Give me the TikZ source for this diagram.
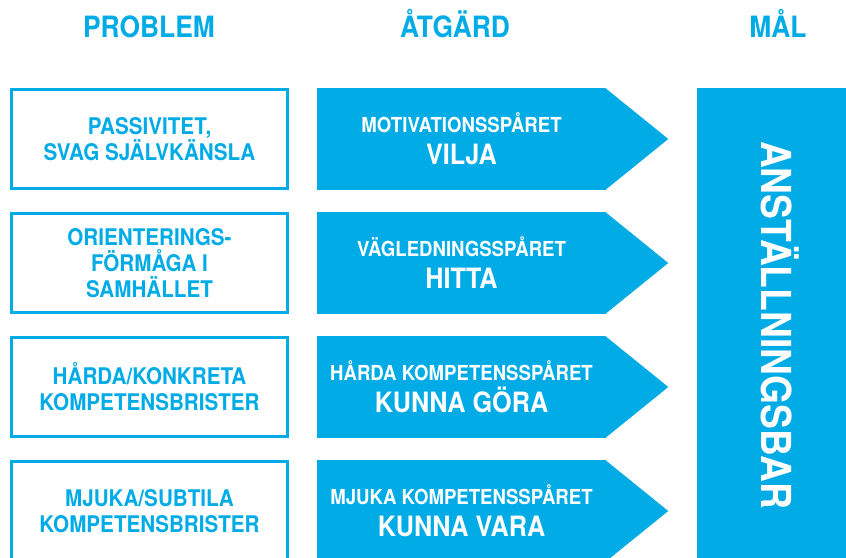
\documentclass[tikz,border=0pt]{standalone}
\usepackage{fontspec}
\setmainfont{TeX Gyre Heros}[FakeStretch=0.9]
\usepackage{tikz}
\definecolor{ssblue}{RGB}{0,171,230}
\tikzset{
	header/.style = {font=\bfseries\fontsize{22}{24}\selectfont, text=ssblue, anchor=base},
	problembox/.style = {draw=ssblue, line width=2.25pt, minimum width=207pt, minimum height=74.25pt, inner sep=0pt,
		align=center, text=ssblue, font=\bfseries\fontsize{17.2}{19.5}\selectfont},
	trackbody/.style = {fill=ssblue, minimum width=216.75pt, minimum height=76.5pt, inner sep=0pt,
		align=center, text=white, font=\bfseries\fontsize{15.5}{24}\selectfont},
	goalbar/.style = {fill=ssblue, minimum width=111.75pt, minimum height=354pt, inner sep=0pt},
	goaltext/.style = {text=white, font=\bfseries\fontsize{31}{34}\selectfont, rotate=-90, inner sep=0pt}
}
\newcommand{\tracktext}[2]{#1\\{\fontsize{21}{24}\selectfont #2}}

\begin{document}
\begin{tikzpicture}[x=0.75pt, y=-0.75pt]
\useasboundingbox (0,0) rectangle (846,557);

\node[header] (hprob) at (149,37) {PROBLEM};
\node[header] (hatg) at (455,37) {ÅTGÄRD};
\node[header] (hmal) at (778,37) {MÅL};

\node[problembox] (p1) at (149.5,139) {PASSIVITET,\\SVAG SJÄLVKÄNSLA};
\node[problembox] (p2) at (149.5,263) {ORIENTERINGS-\\FÖRMÅGA I\\SAMHÄLLET};
\node[problembox] (p3) at (149.5,387) {HÅRDA/KONKRETA\\KOMPETENSBRISTER};
\node[problembox] (p4) at (149.5,511) {MJUKA/SUBTILA\\KOMPETENSBRISTER};

\node[trackbody] (a1) at (461.5,139) {\tracktext{MOTIVATIONSSPÅRET}{VILJA}};
	\fill[ssblue] ([xshift=-1pt]a1.north east) -- ([xshift=46.5pt]a1.east) -- ([xshift=-1pt]a1.south east) -- cycle;
\node[trackbody] (a2) at (461.5,263) {\tracktext{VÄGLEDNINGSSPÅRET}{HITTA}};
	\fill[ssblue] ([xshift=-1pt]a2.north east) -- ([xshift=46.5pt]a2.east) -- ([xshift=-1pt]a2.south east) -- cycle;
\node[trackbody] (a3) at (461.5,387) {\tracktext{HÅRDA KOMPETENSSPÅRET}{KUNNA GÖRA}};
	\fill[ssblue] ([xshift=-1pt]a3.north east) -- ([xshift=46.5pt]a3.east) -- ([xshift=-1pt]a3.south east) -- cycle;
\node[trackbody] (a4) at (461.5,511) {\tracktext{MJUKA KOMPETENSSPÅRET}{KUNNA VARA}};
	\fill[ssblue] ([xshift=-1pt]a4.north east) -- ([xshift=46.5pt]a4.east) -- ([xshift=-1pt]a4.south east) -- cycle;

\node[goalbar] (mal) at (771.5,324) {};
	\node[goaltext] (anst) at (780,325) {ANSTÄLLNINGSBAR};

\end{tikzpicture}
\end{document}
